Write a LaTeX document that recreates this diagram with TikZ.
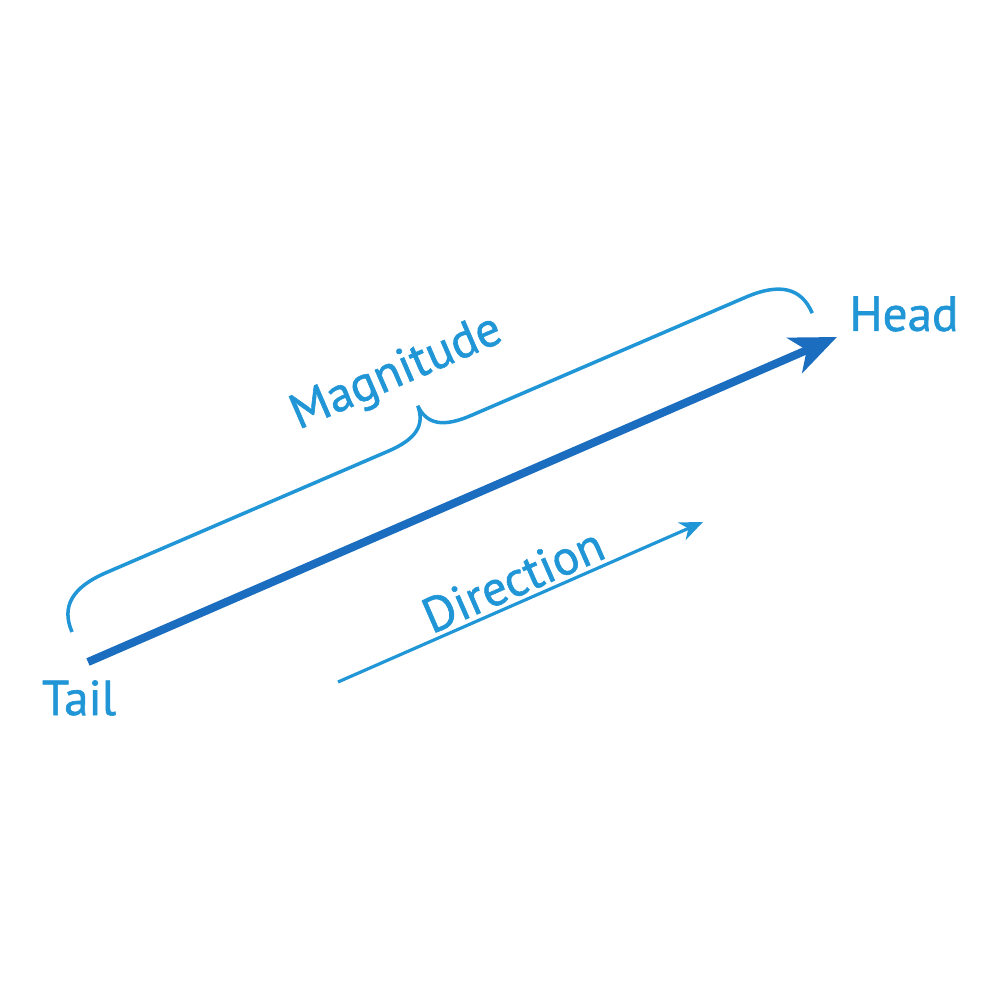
\documentclass[tikz,border=0pt]{standalone}
\usepackage{fontspec}
\setmainfont{PT Sans}[FakeBold=1.2]
\usetikzlibrary{arrows.meta}

\definecolor{vecblue}{HTML}{1A6DBF}
\definecolor{lightblue}{HTML}{2196D6}

\begin{document}
\begin{tikzpicture}[
  >=Stealth,
  vector/.style={draw=vecblue,line width=2.3pt,
    -{Stealth[length=4.6mm,width=3.8mm,inset=1.3mm]}},
  dirarrow/.style={draw=lightblue,line width=0.9pt,
    -{Stealth[length=2.3mm,width=1.9mm,inset=0.7mm]}},
  brace/.style={draw=lightblue,line width=1pt},
  lbl/.style={text=lightblue,font=\fontsize{14}{16}\selectfont,inner sep=0pt}
]
  \useasboundingbox (0,0) rectangle (10,10);

  \coordinate (vtail) at (0.88,3.38);
  \coordinate (vhead) at (8.37,6.63);
  \coordinate (dstart) at (3.38,3.18);
  \coordinate (dend) at (7.03,4.78);

  \draw[vector] (vtail) -- (vhead);
  \draw[dirarrow] (dstart) -- (dend);

  % brace over the vector
  \begin{scope}[shift={(0.72,3.68)},rotate=23.3]
    \coordinate (bl) at (0,0);
    \coordinate (br) at (8.06,0);
    \coordinate (btip) at (4.07,0.71);
    \draw[brace] (bl) .. controls (0,0.28) and (0.18,0.41) .. (0.55,0.41)
      -- (3.62,0.41) .. controls (3.92,0.41) and (4.06,0.5) .. (btip)
      .. controls (4.08,0.5) and (4.22,0.41) .. (4.52,0.41)
      -- (7.51,0.41) .. controls (7.88,0.41) and (8.06,0.28) .. (br);
  \end{scope}

  \node[lbl] (head) at (9.04,6.86) {Head};
  \node[lbl] (tail) at (0.79,3.02) {Tail};
  \node[lbl,rotate=23.4] (magn) at (3.97,6.26) {Magnitude};
  \node[lbl,rotate=23.6] (dirn) at (5.13,4.20) {Direction};
\end{tikzpicture}
\end{document}
